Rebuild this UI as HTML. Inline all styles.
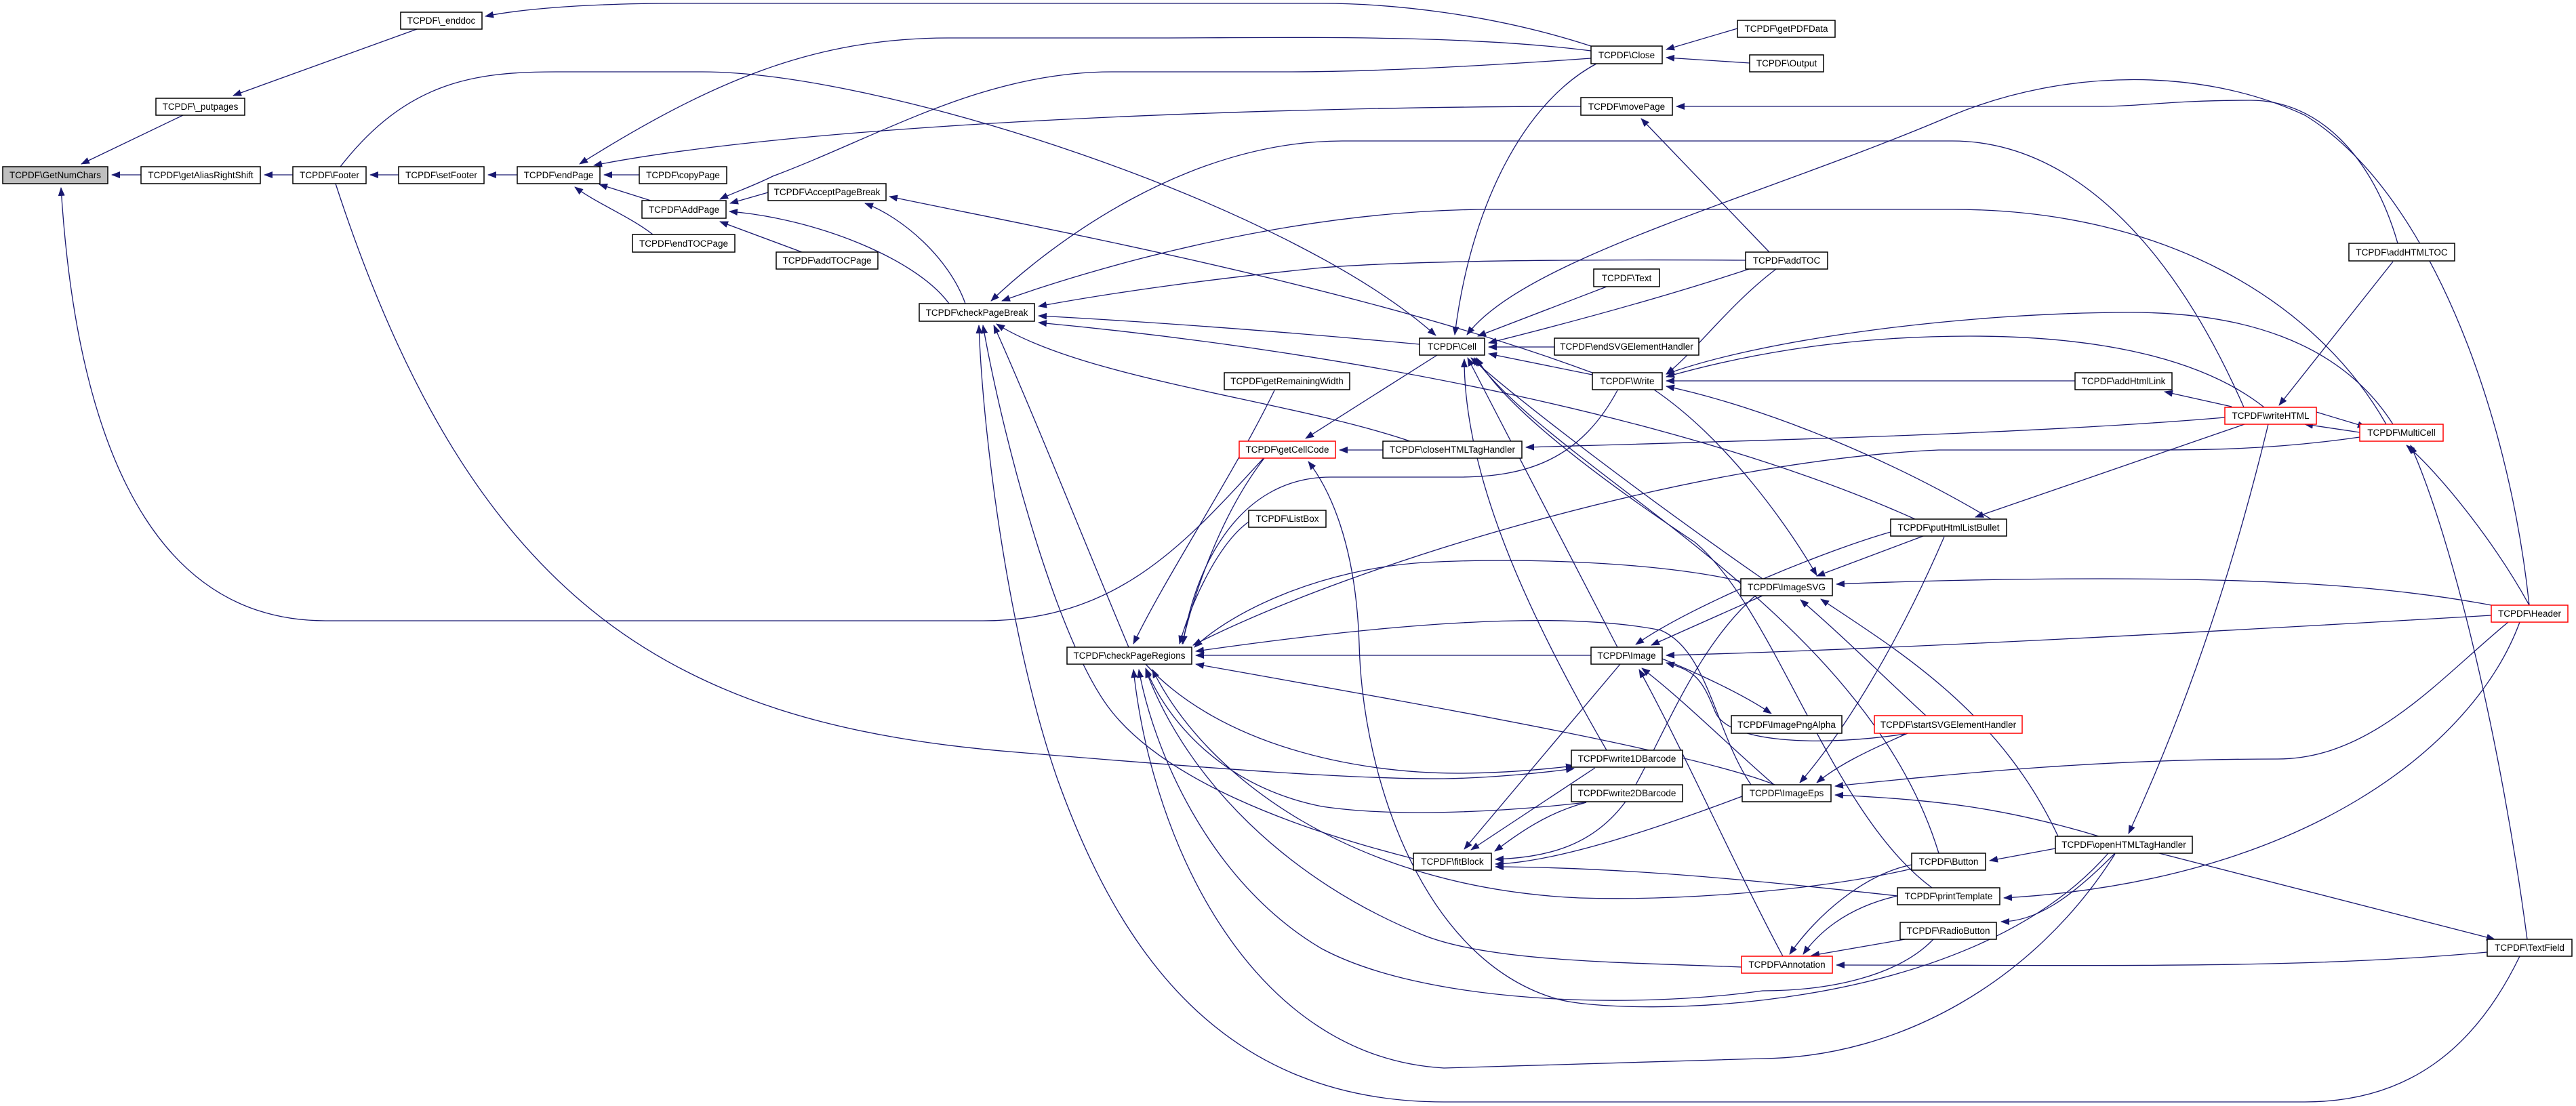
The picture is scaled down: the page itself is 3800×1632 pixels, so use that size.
<!DOCTYPE html>
<html><head><meta charset="utf-8"><style>
html,body{margin:0;padding:0;background:#fff;}
svg{display:block;}
text{font-family:"Liberation Sans",Arial,sans-serif;font-size:13.5px;fill:#000;text-anchor:middle;}
.e{fill:none;stroke:#191970;stroke-width:1.3;marker-end:url(#a);}
.n{fill:#fff;stroke:#000;stroke-width:1.5;}
.r{fill:#fff;stroke:#ff0000;stroke-width:1.5;}
</style></head><body>
<svg width="3800" height="1632" viewBox="0 0 3800 1632" xmlns="http://www.w3.org/2000/svg">
<defs><marker id="a" markerUnits="userSpaceOnUse" markerWidth="13" markerHeight="10" refX="12" refY="5" orient="auto"><path d="M0,0 L13,5 L0,10 z" fill="#191970"/></marker></defs>
<g>
<path class="e" d="M208,258 L165,258"/>
<path class="e" d="M270,170 L120,242"/>
<path class="e" d="M615,43 L344,141"/>
<path class="e" d="M432,258 L390,258"/>
<path class="e" d="M588,258 L546,258"/>
<path class="e" d="M763,258 L720,258"/>
<path class="e" d="M943,258 L891,258"/>
<path class="e" d="M960,296 L884,272"/>
<path class="e" d="M963,346 C930,320 880,300 848,276"/>
<path class="e" d="M1133,284 L1077,300"/>
<path class="e" d="M1183,372 L1062,327"/>
<path class="e" d="M1400,448 C1350,380 1200,322 1076,312"/>
<path class="e" d="M1424,448 C1400,380 1330,320 1276,300"/>
<path class="e" d="M2347,75 C2150,50 1900,56 1700,56 L1400,56 C1200,56 1050,120 855,242"/>
<path class="e" d="M2332,157 C1900,157 1200,180 876,244"/>
<path class="e" d="M2347,86 C2150,100 2000,106 1900,106 L1640,106 C1450,106 1300,200 1140,260 C1110,275 1080,285 1062,294"/>
<path class="e" d="M2347,68 C2200,20 2050,5 1950,5 L1000,5 C850,5 760,15 716,24"/>
<path class="e" d="M502,246 C600,120 700,106 820,106 L1036,106 C1300,106 1900,300 2118,495"/>
<path class="e" d="M2563,42 L2458,73"/>
<path class="e" d="M2581,93 L2458,85"/>
<path class="e" d="M2355,94 C2250,150 2170,300 2146,494"/>
<path class="e" d="M2610,372 L2421,175"/>
<path class="e" d="M3731,893 C3700,600 3580,280 3400,170 C3250,100 3050,100 2880,170 C2600,290 2250,380 2164,494"/>
<path class="e" d="M3537,359 C3500,230 3420,148 3320,148 C3200,148 3160,157 3100,157 L2473,157"/>
<path class="e" d="M2370,423 C2300,450 2220,480 2180,496"/>
<path class="e" d="M2293,512 L2196,512"/>
<path class="e" d="M2349,553 L2196,522"/>
<path class="e" d="M2580,397 C2450,440 2300,480 2196,506"/>
<path class="e" d="M3310,601 C3200,350 3050,208 2880,208 L1980,208 C1750,208 1550,360 1462,444"/>
<path class="e" d="M3520,626 C3420,450 3200,309 2880,309 L2200,309 C1900,309 1600,400 1478,444"/>
<path class="e" d="M2575,384 C2400,383 2100,383 1950,395 C1800,410 1650,430 1532,452"/>
<path class="e" d="M2094,508 C1900,490 1700,475 1532,466"/>
<path class="e" d="M2825,766 C2500,620 2000,520 1532,476"/>
<path class="e" d="M2080,651 C1900,590 1600,560 1470,478"/>
<path class="e" d="M1665,955 C1600,800 1520,600 1466,480"/>
<path class="e" d="M2085,1267 C1900,1220 1720,1150 1640,1050 C1560,950 1480,650 1450,480"/>
<path class="e" d="M3717,1411 C3650,1550 3550,1626 3400,1626 L2130,1626 C1800,1626 1650,1400 1560,1150 C1490,950 1450,650 1444,480"/>
<path class="e" d="M1880,576 C1820,700 1720,850 1672,950"/>
<path class="e" d="M1865,676 C1800,760 1760,880 1744,950"/>
<path class="e" d="M1842,770 C1800,800 1760,880 1740,950"/>
<path class="e" d="M2386,576 C2330,680 2250,704 2150,704 L1963,704 C1820,704 1760,850 1745,950"/>
<path class="e" d="M3481,645 C3350,664 3250,664 3150,664 L2860,664 C2500,680 2000,830 1760,952"/>
<path class="e" d="M2569,858 C2450,830 2250,822 2100,830 C1950,840 1820,900 1762,955"/>
<path class="e" d="M2583,1158 C2530,1080 2520,960 2450,930 C2300,900 2050,920 1764,961"/>
<path class="e" d="M2347,967 L1764,967"/>
<path class="e" d="M2618,1158 C2500,1110 2100,1040 1764,980"/>
<path class="e" d="M1690,980 C1800,1100 2000,1141 2150,1141 C2220,1141 2280,1135 2322,1130"/>
<path class="e" d="M2340,1184 C2200,1200 2050,1205 1950,1190 C1800,1160 1720,1060 1690,986"/>
<path class="e" d="M2820,1282 C2700,1310 2500,1330 2330,1325 C2000,1310 1780,1150 1700,988"/>
<path class="e" d="M2569,1427 C2400,1420 2200,1420 2100,1380 C1900,1300 1750,1150 1690,988"/>
<path class="e" d="M2852,1386 C2800,1440 2700,1462 2600,1462 C2400,1490 2100,1480 1950,1400 C1780,1300 1700,1100 1680,988"/>
<path class="e" d="M3120,1260 C3000,1450 2800,1560 2600,1562 L2130,1576 C1850,1560 1700,1250 1672,988"/>
<path class="e" d="M495,271 C700,900 1000,1070 1500,1110 C1800,1135 2000,1150 2130,1149 C2200,1148 2280,1140 2322,1134"/>
<path class="e" d="M1864,676 C1750,800 1650,916 1450,916 L480,916 C200,916 110,600 90,277"/>
<path class="e" d="M2789,785 C2700,810 2500,890 2413,951"/>
<path class="e" d="M2600,879 L2436,952"/>
<path class="e" d="M3675,908 C3300,930 2800,958 2458,967"/>
<path class="e" d="M2452,972 C2520,1000 2580,1030 2613,1053"/>
<path class="e" d="M2810,1083 C2700,1100 2550,1100 2530,1050 C2510,1000 2500,990 2458,978"/>
<path class="e" d="M2617,1158 C2550,1100 2480,1030 2422,986"/>
<path class="e" d="M2630,1411 C2560,1280 2480,1100 2418,988"/>
<path class="e" d="M2390,980 L2160,1253"/>
<path class="e" d="M2353,1133 L2170,1254"/>
<path class="e" d="M2340,1184 C2280,1200 2240,1230 2205,1256"/>
<path class="e" d="M2600,870 C2500,950 2450,1100 2400,1180 C2350,1250 2280,1265 2206,1268"/>
<path class="e" d="M2570,1175 C2450,1220 2300,1272 2206,1275"/>
<path class="e" d="M2799,1322 C2600,1300 2400,1280 2206,1279"/>
<path class="e" d="M2386,955 L2165,528"/>
<path class="e" d="M2600,854 C2450,750 2250,600 2170,528"/>
<path class="e" d="M2860,1259 C2750,900 2300,700 2175,528"/>
<path class="e" d="M2850,1310 C2700,1200 2620,900 2500,800 C2350,700 2220,600 2178,528"/>
<path class="e" d="M2370,1107 C2250,900 2160,700 2160,530"/>
<path class="e" d="M2120,524 L1926,647"/>
<path class="e" d="M2040,664 L1976,664"/>
<path class="e" d="M3110,1259 C2900,1500 2400,1500 2300,1475 C2100,1420 2010,1150 2005,950 C2000,800 1960,720 1930,681"/>
<path class="e" d="M3675,893 C3500,860 3300,854 3100,854 C2950,854 2800,858 2709,862"/>
<path class="e" d="M2837,791 L2680,850"/>
<path class="e" d="M2841,1056 C2780,1000 2720,940 2656,885"/>
<path class="e" d="M3036,1234 C2950,1050 2800,960 2686,884"/>
<path class="e" d="M2440,575 C2550,650 2640,780 2680,849"/>
<path class="e" d="M2868,792 C2800,950 2720,1080 2655,1155"/>
<path class="e" d="M2814,1082 C2750,1110 2710,1130 2680,1155"/>
<path class="e" d="M3700,918 C3600,1000 3500,1120 3360,1120 C3100,1120 2900,1140 2707,1160"/>
<path class="e" d="M3096,1234 C2950,1190 2850,1180 2707,1173"/>
<path class="e" d="M3346,626 C3280,900 3200,1100 3140,1230"/>
<path class="e" d="M3032,1252 L2935,1270"/>
<path class="e" d="M3717,918 C3650,1100 3400,1300 2956,1325"/>
<path class="e" d="M3120,1259 C3050,1330 3000,1360 2952,1360"/>
<path class="e" d="M3185,1259 L3680,1386"/>
<path class="e" d="M3728,1386 C3690,1100 3620,800 3556,657"/>
<path class="e" d="M3731,893 C3680,800 3600,700 3550,657"/>
<path class="e" d="M3282,616 C3000,640 2600,650 2251,660"/>
<path class="e" d="M3417,608 L3490,630"/>
<path class="e" d="M3481,638 L3400,626"/>
<path class="e" d="M3292,600 L3193,578"/>
<path class="e" d="M3061,562 L2458,562"/>
<path class="e" d="M3530,386 L3362,598"/>
<path class="e" d="M3311,626 L2914,763"/>
<path class="e" d="M3340,601 C3250,530 3100,496 2906,496 C2700,496 2550,530 2458,556"/>
<path class="e" d="M3530,626 C3450,500 3300,461 3143,461 C2900,461 2600,500 2458,552"/>
<path class="e" d="M2620,397 C2550,450 2500,520 2458,552"/>
<path class="e" d="M2960,780 C2800,680 2600,600 2458,570"/>
<path class="e" d="M2349,550 C2000,420 1500,330 1312,290"/>
<path class="e" d="M2820,1276 C2750,1290 2680,1350 2640,1408"/>
<path class="e" d="M2799,1322 C2720,1340 2680,1380 2660,1408"/>
<path class="e" d="M2810,1386 L2672,1410"/>
<path class="e" d="M3669,1405 C3400,1430 3100,1424 2709,1424"/>
</g>
<g>
<rect x="4" y="246" width="155" height="25" fill="#bfbfbf" stroke="#000" stroke-width="1.5"/><text x="81.5" y="263">TCPDF\GetNumChars</text>
<rect class="n" x="208" y="246" width="176" height="25"/><text x="296" y="263">TCPDF\getAliasRightShift</text>
<rect class="n" x="432" y="246" width="108" height="25"/><text x="486" y="263">TCPDF\Footer</text>
<rect class="n" x="588" y="246" width="126" height="25"/><text x="651" y="263">TCPDF\setFooter</text>
<rect class="n" x="763" y="246" width="122" height="25"/><text x="824" y="263">TCPDF\endPage</text>
<rect class="n" x="943" y="246" width="129" height="25"/><text x="1007.5" y="263">TCPDF\copyPage</text>
<rect class="n" x="1133" y="271" width="174" height="25"/><text x="1220" y="288">TCPDF\AcceptPageBreak</text>
<rect class="n" x="947" y="296" width="124" height="26"/><text x="1009" y="314">TCPDF\AddPage</text>
<rect class="n" x="933" y="346" width="151" height="26"/><text x="1008.5" y="364">TCPDF\endTOCPage</text>
<rect class="n" x="1145" y="372" width="150" height="25"/><text x="1220" y="389">TCPDF\addTOCPage</text>
<rect class="n" x="591" y="18" width="120" height="25"/><text x="651" y="35">TCPDF\_enddoc</text>
<rect class="n" x="230" y="145" width="131" height="25"/><text x="295.5" y="162">TCPDF\_putpages</text>
<rect class="n" x="2347" y="68" width="105" height="26"/><text x="2399.5" y="86">TCPDF\Close</text>
<rect class="n" x="2563" y="30" width="144" height="25"/><text x="2635" y="47">TCPDF\getPDFData</text>
<rect class="n" x="2581" y="81" width="109" height="25"/><text x="2635.5" y="98">TCPDF\Output</text>
<rect class="n" x="2332" y="144" width="135" height="26"/><text x="2399.5" y="162">TCPDF\movePage</text>
<rect class="n" x="1356" y="448" width="170" height="26"/><text x="1441" y="466">TCPDF\checkPageBreak</text>
<rect class="n" x="2094" y="499" width="96" height="25"/><text x="2142" y="516">TCPDF\Cell</text>
<rect class="n" x="2351" y="397" width="97" height="26"/><text x="2399.5" y="415">TCPDF\Text</text>
<rect class="n" x="2293" y="499" width="213" height="25"/><text x="2399.5" y="516">TCPDF\endSVGElementHandler</text>
<rect class="n" x="2575" y="372" width="121" height="25"/><text x="2635.5" y="389">TCPDF\addTOC</text>
<rect class="n" x="2349" y="550" width="103" height="25"/><text x="2400.5" y="567">TCPDF\Write</text>
<rect class="n" x="1806" y="550" width="185" height="25"/><text x="1898.5" y="567">TCPDF\getRemainingWidth</text>
<rect class="n" x="3465" y="359" width="156" height="26"/><text x="3543" y="377">TCPDF\addHTMLTOC</text>
<rect class="n" x="3061" y="550" width="143" height="25"/><text x="3132.5" y="567">TCPDF\addHtmlLink</text>
<rect class="r" x="3282" y="601" width="135" height="25"/><text x="3349.5" y="618">TCPDF\writeHTML</text>
<rect class="r" x="3481" y="626" width="123" height="25"/><text x="3542.5" y="643">TCPDF\MultiCell</text>
<rect class="r" x="1828" y="651" width="142" height="25"/><text x="1899" y="668">TCPDF\getCellCode</text>
<rect class="n" x="2040" y="651" width="205" height="25"/><text x="2142.5" y="668">TCPDF\closeHTMLTagHandler</text>
<rect class="n" x="1842" y="753" width="114" height="25"/><text x="1899" y="770">TCPDF\ListBox</text>
<rect class="n" x="2789" y="766" width="171" height="25"/><text x="2874.5" y="783">TCPDF\putHtmlListBullet</text>
<rect class="n" x="2568" y="854" width="135" height="25"/><text x="2635.5" y="871">TCPDF\ImageSVG</text>
<rect class="r" x="3675" y="893" width="113" height="25"/><text x="3731.5" y="910">TCPDF\Header</text>
<rect class="n" x="1574" y="955" width="184" height="25"/><text x="1666" y="972">TCPDF\checkPageRegions</text>
<rect class="n" x="2347" y="955" width="105" height="25"/><text x="2399.5" y="972">TCPDF\Image</text>
<rect class="n" x="2554" y="1056" width="163" height="26"/><text x="2635.5" y="1074">TCPDF\ImagePngAlpha</text>
<rect class="r" x="2765" y="1056" width="218" height="26"/><text x="2874" y="1074">TCPDF\startSVGElementHandler</text>
<rect class="n" x="2318" y="1107" width="164" height="25"/><text x="2400" y="1124">TCPDF\write1DBarcode</text>
<rect class="n" x="2318" y="1158" width="164" height="25"/><text x="2400" y="1175">TCPDF\write2DBarcode</text>
<rect class="n" x="2570" y="1158" width="131" height="25"/><text x="2635.5" y="1175">TCPDF\ImageEps</text>
<rect class="n" x="2085" y="1259" width="115" height="25"/><text x="2142.5" y="1276">TCPDF\fitBlock</text>
<rect class="n" x="3032" y="1234" width="202" height="25"/><text x="3133" y="1251">TCPDF\openHTMLTagHandler</text>
<rect class="n" x="2820" y="1259" width="109" height="25"/><text x="2874.5" y="1276">TCPDF\Button</text>
<rect class="n" x="2799" y="1310" width="151" height="25"/><text x="2874.5" y="1327">TCPDF\printTemplate</text>
<rect class="n" x="2803" y="1361" width="142" height="25"/><text x="2874" y="1378">TCPDF\RadioButton</text>
<rect class="r" x="2569" y="1411" width="134" height="25"/><text x="2636" y="1428">TCPDF\Annotation</text>
<rect class="n" x="3669" y="1386" width="125" height="25"/><text x="3731.5" y="1403">TCPDF\TextField</text>
</g>
</svg>
</body></html>
